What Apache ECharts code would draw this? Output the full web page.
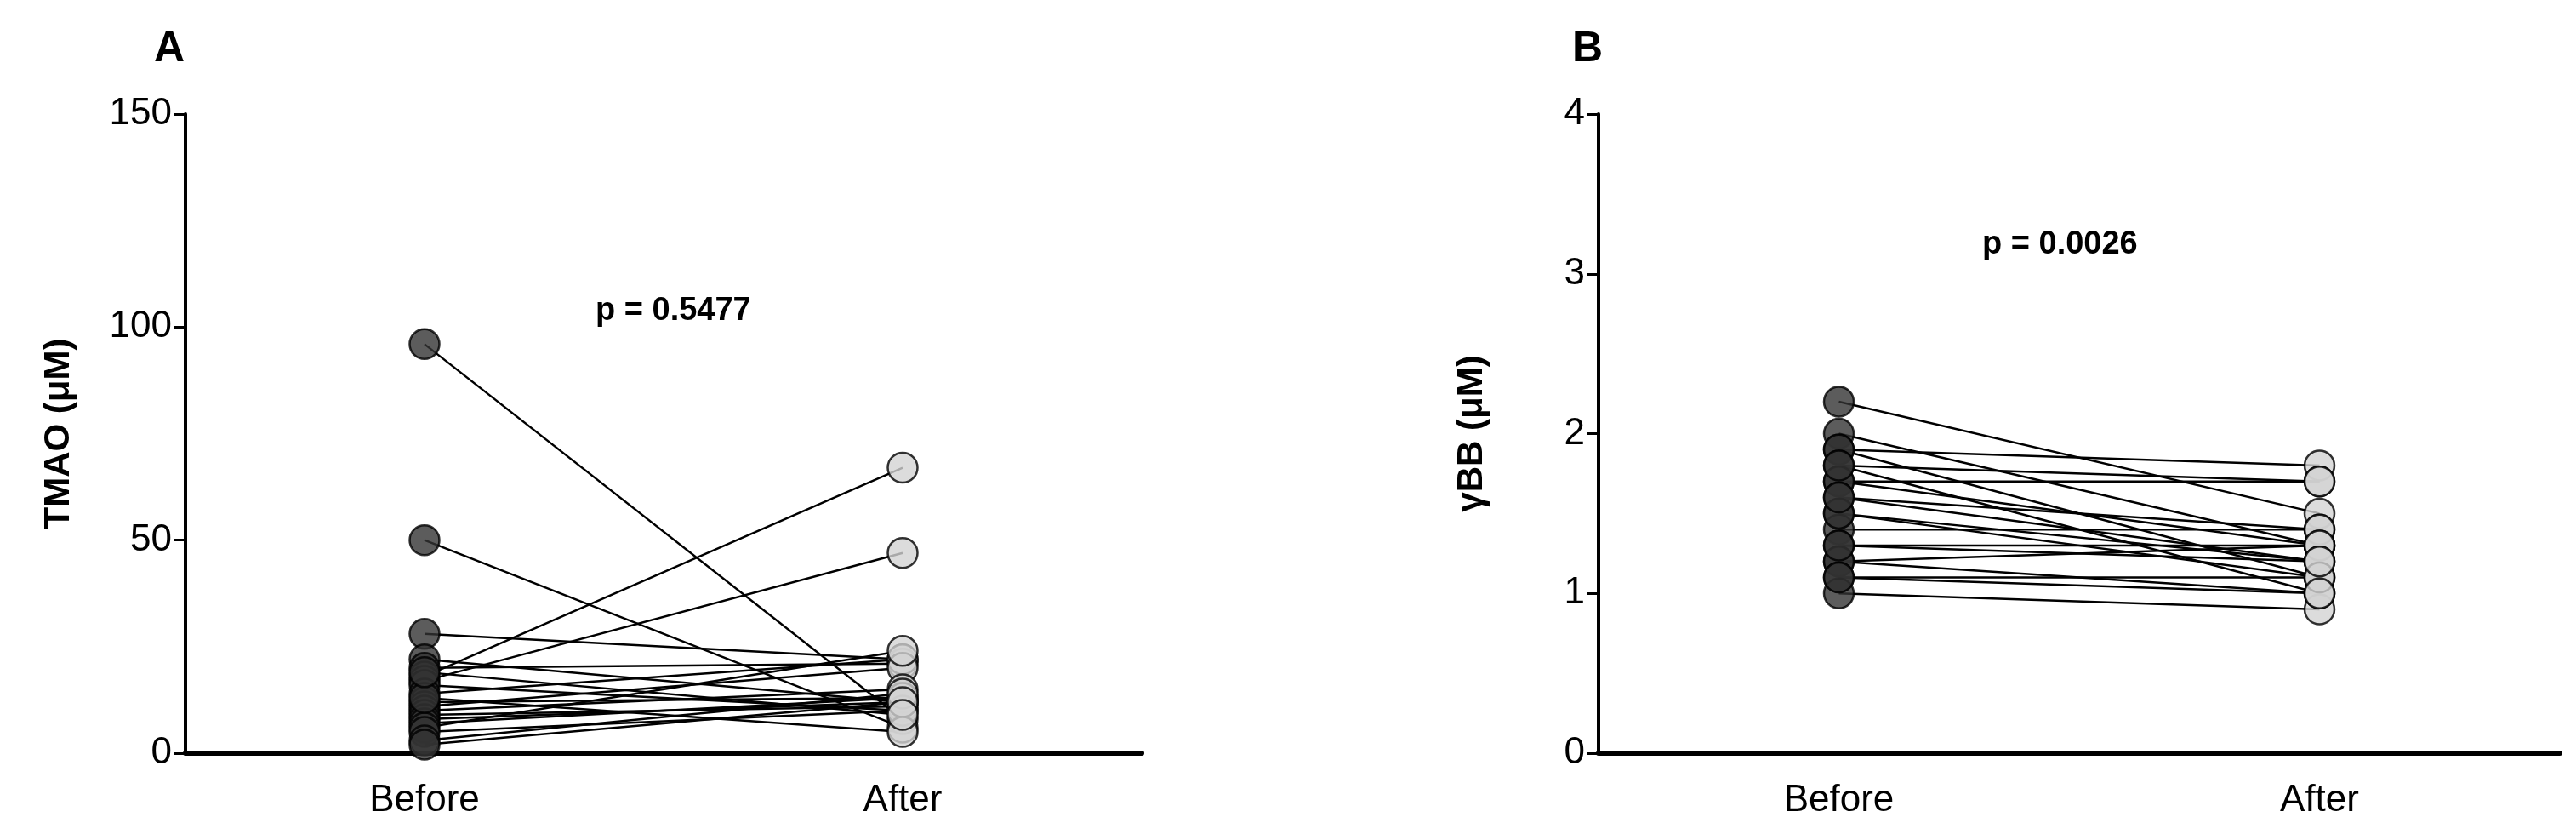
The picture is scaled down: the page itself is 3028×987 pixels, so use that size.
<!DOCTYPE html>
<html>
<head>
<meta charset="utf-8">
<script src="https://cdn.jsdelivr.net/npm/echarts@6/dist/echarts.min.js"></script>
<style>html,body{margin:0;background:#fff}#chart{width:3028px;height:987px}</style>
</head>
<body>
<div id="chart"></div>
<script>
// paired values
var categories = ['Before', 'After'];
var tmaoBefore = [96, 50, 28, 22, 20, 18, 17, 16, 14, 12, 11, 10, 9, 8, 7, 6, 5, 3, 2, 13, 19];
var tmaoAfter  = [8, 6, 22, 12, 21, 67, 47, 10, 22, 13, 20, 15, 11, 12, 13, 24, 10, 14, 12, 5, 9];
var gbbBefore = [2.2, 2.0, 1.9, 1.9, 1.8, 1.7, 1.7, 1.6, 1.5, 1.4, 1.3, 1.2, 1.2, 1.1, 1.0, 1.1, 1.3, 1.5, 1.6, 1.8];
var gbbAfter  = [1.5, 1.3, 1.8, 1.1, 1.7, 1.7, 1.3, 1.4, 1.2, 1.4, 1.3, 1.0, 1.3, 1.1, 0.9, 1.0, 1.2, 1.1, 1.2, 1.0];
var tmaoTicks = [0, 50, 100, 150];
var gbbTicks = [0, 1, 2, 3, 4];

var font = 'Liberation Sans';
var myChart = echarts.init(document.getElementById('chart'));

function pairSeries(before, after, idx) {
    var out = [];
    before.forEach(function (b, i) {
        out.push({
            type: 'line', xAxisIndex: idx, yAxisIndex: idx, symbol: 'none', silent: true,
            lineStyle: {color: '#000', width: 2.5}, data: [b, after[i]]
        });
    });
    out.push({
        type: 'scatter', xAxisIndex: idx, yAxisIndex: idx, symbolSize: 35, z: 5,
        itemStyle: {color: '#333', borderColor: '#000', borderWidth: 2.5},
        data: before.map(function (v) { return ['Before', v]; })
    });
    out.push({
        type: 'scatter', xAxisIndex: idx, yAxisIndex: idx, symbolSize: 35, z: 5,
        itemStyle: {color: '#d3d3d3', borderColor: '#000', borderWidth: 2.5},
        data: after.map(function (v) { return ['After', v]; })
    });
    return out;
}

function xAx(idx) {
    return {
        type: 'category', gridIndex: idx, data: categories, boundaryGap: true,
        axisLine: {lineStyle: {color: '#000', width: 6}},
        axisTick: {alignWithLabel: true, length: 14, lineStyle: {width: 3, color: '#000'}},
        axisLabel: {color: '#000', fontSize: 44, fontFamily: font, margin: 34}
    };
}
function yAx(idx, ticks, name) {
    return {
        type: 'value', gridIndex: idx, min: ticks[0], max: ticks[ticks.length - 1],
        interval: ticks[1] - ticks[0], splitLine: {show: false},
        name: name, nameLocation: 'middle', nameGap: 128,
        nameTextStyle: {color: '#000', fontSize: 42, fontWeight: 'bold', fontFamily: font},
        axisLine: {show: true, lineStyle: {color: '#000', width: 4}},
        axisTick: {show: true, length: 14, lineStyle: {width: 3, color: '#000'}},
        axisLabel: {color: '#000', fontSize: 44, fontFamily: font, margin: 16}
    };
}

var option = {
    animation: false,
    grid: [
        {left: 218, right: 1686, top: 134, bottom: 102},
        {left: 1879, right: 19, top: 134, bottom: 102}
    ],
    title: [
        {text: 'A', left: 176, top: 28, textStyle: {fontSize: 50, fontWeight: 'bold', fontFamily: font, color: '#000'}},
        {text: 'B', left: 1843, top: 28, textStyle: {fontSize: 50, fontWeight: 'bold', fontFamily: font, color: '#000'}},
        {text: 'p = 0.5477', left: 695, top: 342, textStyle: {fontSize: 38, fontWeight: 'bold', fontFamily: font, color: '#000'}},
        {text: 'p = 0.0026', left: 2325, top: 264, textStyle: {fontSize: 38, fontWeight: 'bold', fontFamily: font, color: '#000'}}
    ],
    xAxis: [xAx(0), xAx(1)],
    yAxis: [yAx(0, tmaoTicks, 'TMAO (\u03BCM)'), yAx(1, gbbTicks, '\u03B3BB (\u03BCM)')],
    series: pairSeries(tmaoBefore, tmaoAfter, 0).concat(pairSeries(gbbBefore, gbbAfter, 1))
};
myChart.setOption(option);
</script>
</body>
</html>
